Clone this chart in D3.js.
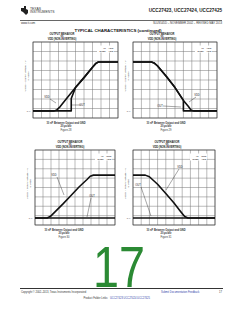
<!DOCTYPE html>
<html>
<head>
<meta charset="utf-8">
<script src="https://cdn.jsdelivr.net/npm/d3@7"></script>
<style>
  html, body { margin: 0; padding: 0; background: #fff; }
  svg text { font-family: "Liberation Sans", Arial, sans-serif; }
</style>
</head>
<body>
<div id="page"></div>
<script>
// Data: time in divisions (10 div across), voltage in volts (1 V/div)
//= ================================
var figureNames = ["Figure 28", "Figure 29", "Figure 30", "Figure 31"];
var conditions = [["IN = VDD", "ENBL = VDD"], ["IN = VDD", "ENBL = VDD"],
                  ["IN = GND", "ENBL = VDD"], ["IN = GND", "ENBL = VDD"]];

var fig28VddT = [0, 2.5, 2.8, 3.2, 4, 5, 6, 7, 7.4, 7.7, 10];
var fig28VddV = [0, 0, 0.1, 0.45, 1.35, 2.45, 3.5, 4.6, 5.0, 5.15, 5.15];
var fig28OutT = [0, 4.5, 4.5, 5, 6, 7, 7.4, 7.7, 10];
var fig28OutV = [0, 0, 1.3, 2.45, 3.5, 4.6, 5.0, 5.15, 5.15];

var fig29VddT = [0, 2.2, 2.5, 2.9, 4, 5, 6, 6.6, 6.9, 7.2, 10];
var fig29VddV = [5.15, 5.15, 5.05, 4.75, 3.6, 2.45, 1.1, 0.45, 0.1, 0, 0];
var fig29OutT = [0, 2.2, 2.5, 2.9, 4, 5, 6, 6, 10];
var fig29OutV = [5.15, 5.15, 5.05, 4.75, 3.6, 2.45, 1.1, 0, 0];

var fig30VddT = [0, 1.5, 1.9, 2.5, 3.5, 4.5, 5.5, 6.5, 6.9, 7.3, 10];
var fig30VddV = [0, 0, 0.15, 0.65, 1.5, 2.4, 3.3, 4.1, 4.45, 4.57, 4.57];
var fig30OutT = [0, 10];
var fig30OutV = [0, 0];

var fig31VddT = [0, 1.5, 2.0, 3, 4, 5, 5.8, 6.3, 6.7, 10];
var fig31VddV = [4.57, 4.57, 4.4, 3.6, 2.6, 1.6, 0.7, 0.15, 0, 0];
var fig31OutT = [0, 10];
var fig31OutV = [0, 0];

var xTicks = d3.range(0, 11);          // divisions
var yTicks = d3.range(-0.75, 7.26, 1); // grid lines, 1 V/div

// Layout for the four panels
var panels = [
  { left: 33, right: 118, top: 42, bottom: 118, titleX: 62, capX: 66,
    vdd: [fig28VddT, fig28VddV], out: [fig28OutT, fig28OutV],
    vddLbl: [47, 98, 56, 103], outLbl: [82, 106, 72, 105], ann: [98, 46] },
  { left: 133, right: 217, top: 42, bottom: 118, titleX: 162, capX: 166,
    vdd: [fig29VddT, fig29VddV], out: [fig29OutT, fig29OutV],
    vddLbl: [197, 96, 189, 102], outLbl: [160, 107, 181, 107], ann: [196, 46] },
  { left: 35, right: 115, top: 150, bottom: 225, titleX: 70, capX: 64,
    vdd: [fig30VddT, fig30VddV], out: [fig30OutT, fig30OutV],
    vddLbl: [54, 176, 64, 195], outLbl: [92, 197, 87, 217], ann: [96, 154] },
  { left: 133, right: 215, top: 150, bottom: 225, titleX: 167, capX: 166,
    vdd: [fig31VddT, fig31VddV], out: [fig31OutT, fig31OutV],
    vddLbl: [180, 168, 166, 190], outLbl: [138, 186, 151, 216], ann: [191, 154] }
];

var svg = d3.select("#page").append("svg")
  .attr("width", 240).attr("height", 310);

svg.append("rect").attr("width", 240).attr("height", 310).attr("fill", "#fff");

// Header
var logo = svg.append("g").attr("transform", "translate(21,6)");
logo.append("path")
  .attr("d", "M0,2 L3,2 L3,0 L5,0 L5,3 L7,4 L7,7 L5,9 L4,8 L2,6 L0,5 Z")
  .attr("fill", "#222");
logo.append("text").attr("x", 9).attr("y", 3.6).attr("font-size", 3.4)
  .attr("fill", "#333").text("TEXAS");
logo.append("text").attr("x", 9).attr("y", 7.4).attr("font-size", 3.4)
  .attr("fill", "#333").text("INSTRUMENTS");

svg.append("text").attr("x", 222).attr("y", 12).attr("text-anchor", "end")
  .attr("font-size", 4.6).attr("font-weight", "bold").attr("fill", "#222")
  .text("UCC27423, UCC27424, UCC27425");
svg.append("line").attr("x1", 20).attr("x2", 222).attr("y1", 20.5).attr("y2", 20.5)
  .attr("stroke", "#000").attr("stroke-width", 0.6);
svg.append("text").attr("x", 21).attr("y", 24).attr("font-size", 2.8)
  .attr("fill", "#333").text("www.ti.com");
svg.append("text").attr("x", 222).attr("y", 24).attr("text-anchor", "end")
  .attr("font-size", 2.8).attr("fill", "#333")
  .text("SLUS545D \u2013 NOVEMBER 2002 \u2013 REVISED MAY 2013");

svg.append("text").attr("x", 118).attr("y", 31.5).attr("text-anchor", "middle")
  .attr("font-size", 4.4).attr("font-weight", "bold").attr("fill", "#111")
  .text("TYPICAL CHARACTERISTICS (continued)");

// Panels
panels.forEach(function(p, i) {
  var x = d3.scaleLinear().domain([0, 10]).range([p.left, p.right]);
  var y = d3.scaleLinear().domain([-0.75, 7.25]).range([p.bottom, p.top]);
  var g = svg.append("g");

  // titles
  ["OUTPUT BEHAVIOR", "vs", "VDD (NON-INVERTING)"].forEach(function(t, k) {
    g.append("text").attr("x", p.titleX).attr("y", p.top - 7.5 + k * 2.8)
      .attr("text-anchor", "middle").attr("font-size", 2.6).attr("font-weight", "bold")
      .attr("fill", "#222").text(t);
  });

  // grid
  g.selectAll(".vg").data(xTicks).enter().append("line")
    .attr("x1", function(d) { return x(d); }).attr("x2", function(d) { return x(d); })
    .attr("y1", p.top).attr("y2", p.bottom)
    .attr("stroke", "#777").attr("stroke-width", 0.5);
  g.selectAll(".hg").data(yTicks).enter().append("line")
    .attr("y1", function(d) { return y(d); }).attr("y2", function(d) { return y(d); })
    .attr("x1", p.left).attr("x2", p.right)
    .attr("stroke", "#777").attr("stroke-width", 0.5);
  g.append("rect").attr("x", p.left).attr("y", p.top)
    .attr("width", p.right - p.left).attr("height", p.bottom - p.top)
    .attr("fill", "none").attr("stroke", "#333").attr("stroke-width", 0.6);

  // conditions box
  g.append("rect").attr("x", p.ann[0] - 1).attr("y", p.ann[1] - 0.5)
    .attr("width", 17).attr("height", 7).attr("fill", "#fff");
  conditions[i].forEach(function(t, k) {
    g.append("text").attr("x", p.ann[0] + 15.5).attr("y", p.ann[1] + 2.6 + k * 3)
      .attr("text-anchor", "end").attr("font-size", 2.4).attr("fill", "#222").text(t);
  });

  // traces
  var line = d3.line()
    .x(function(d) { return x(d[0]); })
    .y(function(d) { return y(d[1]); });
  g.append("path").datum(d3.zip(p.vdd[0], p.vdd[1])).attr("d", line)
    .attr("fill", "none").attr("stroke", "#111").attr("stroke-width", 1.6)
    .attr("stroke-linejoin", "round");
  g.append("path").datum(d3.zip(p.out[0], p.out[1])).attr("d", line)
    .attr("fill", "none").attr("stroke", "#111").attr("stroke-width", 1.6)
    .attr("stroke-linejoin", "round");

  // labels with leaders
  [["VDD", p.vddLbl], ["OUT", p.outLbl]].forEach(function(l) {
    var c = l[1];
    g.append("text").attr("x", c[0]).attr("y", c[1]).attr("text-anchor", "middle")
      .attr("font-size", 2.6).attr("fill", "#222").text(l[0]);
    g.append("line").attr("x1", c[0] + (c[2] > c[0] ? 3 : -1)).attr("y1", c[1] + (c[3] > c[1] + 2 ? 1 : -1))
      .attr("x2", c[2]).attr("y2", c[3]).attr("stroke", "#222").attr("stroke-width", 0.4);
  });

  // y label
  var yl = g.append("g").attr("transform",
    "translate(" + (p.left - 7) + "," + ((p.top + p.bottom) / 2 - 4) + ") rotate(-90)");
  yl.append("text").attr("text-anchor", "middle").attr("font-size", 2.5)
    .attr("fill", "#333").text("V(DD) \u2013 Supply Voltage \u2013 V");
  yl.append("text").attr("y", 3).attr("text-anchor", "middle").attr("font-size", 2.5)
    .attr("fill", "#333").text("(1 V/div)");
  g.append("text").attr("x", p.left - 2.5).attr("y", y(0) + 1).attr("text-anchor", "end")
    .attr("font-size", 2.5).attr("fill", "#333").text("0 V");

  // x label + caption
  ["10 nF Between Output and GND", "20 \u00b5s/div", figureNames[i]].forEach(function(t, k) {
    g.append("text").attr("x", p.capX).attr("y", p.bottom + 5.5 + k * 3.5)
      .attr("text-anchor", "middle").attr("font-size", 2.6)
      .attr("font-weight", k === 2 ? "normal" : "bold").attr("fill", "#333").text(t);
  });
});

// Page number watermark
svg.append("text").attr("x", 93).attr("y", 287).attr("font-size", 58)
  .attr("textLength", 52).attr("lengthAdjust", "spacingAndGlyphs")
  .attr("fill", "#2b8a34").text("17");

// Footer
svg.append("line").attr("x1", 20).attr("x2", 223).attr("y1", 288.5).attr("y2", 288.5)
  .attr("stroke", "#000").attr("stroke-width", 0.8);
svg.append("text").attr("x", 21).attr("y", 292.5).attr("font-size", 2.6)
  .attr("fill", "#333").text("Copyright \u00a9 2002\u20132013, Texas Instruments Incorporated");
svg.append("text").attr("x", 161).attr("y", 292.5).attr("font-size", 2.6)
  .attr("fill", "#3344aa").text("Submit Documentation Feedback");
svg.append("text").attr("x", 222).attr("y", 292.5).attr("text-anchor", "end")
  .attr("font-size", 2.6).attr("fill", "#333").text("17");
svg.append("text").attr("x", 108).attr("y", 299).attr("text-anchor", "end")
  .attr("font-size", 2.6).attr("fill", "#333").text("Product Folder Links:");
svg.append("text").attr("x", 110).attr("y", 299)
  .attr("font-size", 2.6).attr("fill", "#3344aa").text("UCC27423 UCC27424 UCC27425");
</script>
</body>
</html>
